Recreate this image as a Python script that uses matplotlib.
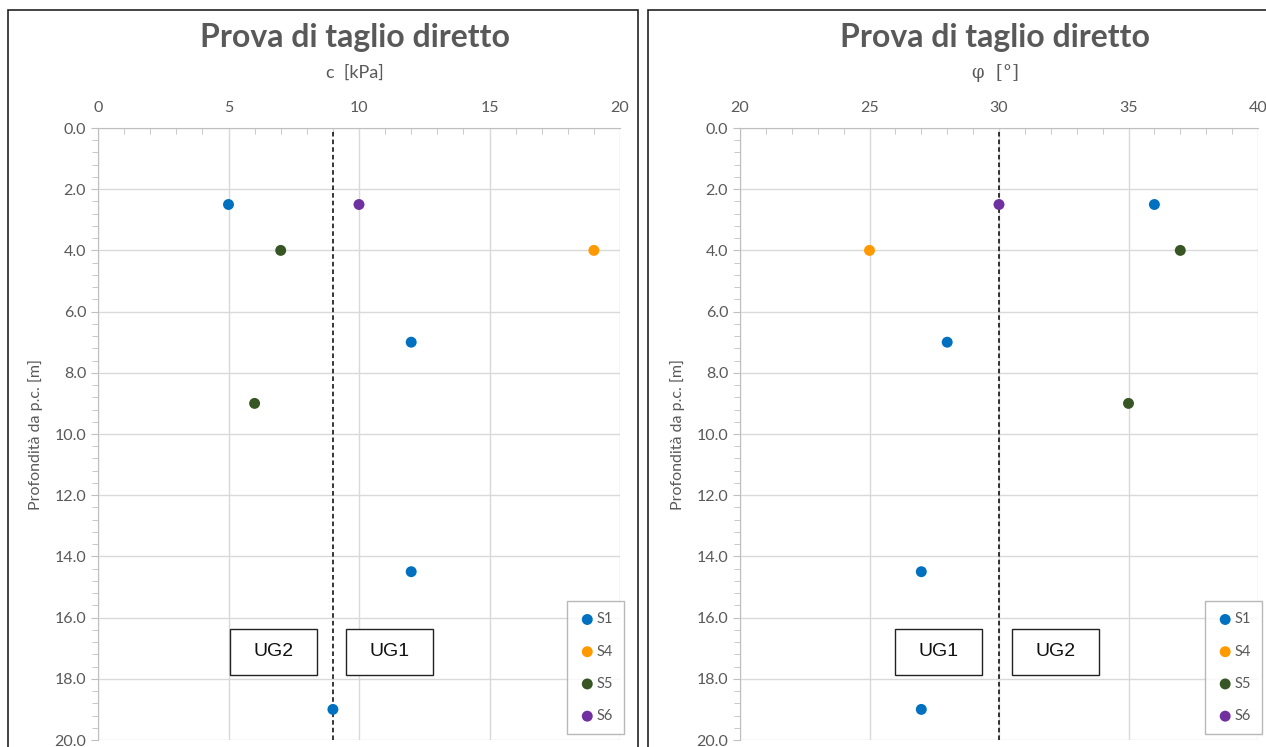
import matplotlib
matplotlib.use("Agg")
import matplotlib.pyplot as plt
from matplotlib.patches import Rectangle
from matplotlib.ticker import MultipleLocator, FormatStrFormatter

# data
series = ["S1", "S4", "S5", "S6"]
colors = ["#0070C0", "#FF9900", "#375623", "#7030A0"]

c_S1 = [5, 12, 12, 9]
z_S1 = [2.5, 7, 14.5, 19]
c_S4 = [19]
z_S4 = [4]
c_S5 = [7, 6]
z_S5 = [4, 9]
c_S6 = [10]
z_S6 = [2.5]

phi_S1 = [36, 28, 27, 27]
phi_S4 = [25]
phi_S5 = [37, 35]
phi_S6 = [30]

c_limit = 9
phi_limit = 30

txt = "#595959"
plt.rcParams['font.family'] = ['Lato', 'DejaVu Sans']

fig = plt.figure(figsize=(12.66, 7.47), dpi=100)
W, H = 1266, 747

# panel frames
for x0, x1 in [(8, 638), (648, 1275)]:
    fig.patches.append(Rectangle((x0 / W, -0.05), (x1 - x0) / W, 1 - 10 / H + 0.05,
                                 transform=fig.transFigure, fill=False,
                                 edgecolor="#222222", lw=1.2))


def make_panel(rect, xs, xlim, xlabel, limit, boxes, title_x):
    ax = fig.add_axes(rect)
    for (name, col), (x, z) in zip(zip(series, colors), xs):
        ax.scatter(x, z, s=62, color=col, label=name, zorder=3, edgecolors="none")
    ax.axvline(limit, color="black", ls=(0, (3, 2)), lw=1.1, zorder=2)
    ax.set_xlim(*xlim)
    ax.set_ylim(20, 0)
    ax.xaxis.set_major_locator(MultipleLocator(5))
    ax.xaxis.set_minor_locator(MultipleLocator(1))
    ax.yaxis.set_major_locator(MultipleLocator(2))
    ax.yaxis.set_minor_locator(MultipleLocator(0.4))
    ax.yaxis.set_major_formatter(FormatStrFormatter("%.1f"))
    ax.xaxis.tick_top()
    ax.grid(True, which="major", color="#D9D9D9", lw=1)
    ax.set_axisbelow(True)
    for s in ["right", "bottom"]:
        ax.spines[s].set_visible(False)
    for s in ["top", "left"]:
        ax.spines[s].set_color("#BFBFBF")
    ax.tick_params(axis="x", which="both", direction="in", colors="#BFBFBF",
                   labelcolor=txt, labelsize=11.5, pad=9)
    ax.tick_params(axis="x", which="major", length=0)
    ax.tick_params(axis="x", which="minor", length=4)
    ax.tick_params(axis="y", which="both", direction="out", colors="#BFBFBF",
                   labelcolor=txt, labelsize=11.5)
    ax.tick_params(axis="y", which="major", length=5)
    ax.tick_params(axis="y", which="minor", length=4)
    fig.text(title_x / W, 1 - 37 / H, "Prova di taglio diretto", color=txt,
             fontsize=23, fontweight="bold", ha="center", va="center")
    fig.text(title_x / W, 1 - 73 / H, xlabel, color=txt, fontsize=13,
             ha="center", va="center",
             family=['DejaVu Serif'] if xlabel.startswith("φ") else None)
    ax.set_ylabel("Profondità da p.c. [m]", color=txt, fontsize=11.5, labelpad=8)
    for label, x0, x1 in boxes:
        ax.add_patch(Rectangle((x0, 16.37), x1 - x0, 1.5, fill=True,
                               facecolor="white", edgecolor="#222222", lw=1, zorder=4))
        ax.text((x0 + x1) / 2, 17.12, label, ha="center", va="center",
                fontsize=14, family="Liberation Sans", color="#111111", zorder=5)
    leg = ax.legend(loc="lower right", bbox_to_anchor=(1.022, -0.002), frameon=True,
                    fancybox=False, edgecolor="#A6A6A6", fontsize=10.5,
                    labelcolor=txt, handletextpad=0.0, borderpad=0.75,
                    labelspacing=1.25, handlelength=1.3, markerscale=1.0)
    leg.get_frame().set_linewidth(1)
    return ax


make_panel([98 / W, 1 - 740 / H, 522 / W, 612 / H],
           [(c_S1, z_S1), (c_S4, z_S4), (c_S5, z_S5), (c_S6, z_S6)],
           (0, 20), "c  [kPa]", c_limit,
           [("UG2", 5.06, 8.39), ("UG1", 9.5, 12.84)], 355)

make_panel([740 / W, 1 - 740 / H, 518 / W, 612 / H],
           [(phi_S1, z_S1), (phi_S4, z_S4), (phi_S5, z_S5), (phi_S6, z_S6)],
           (20, 40), "φ  [°]", phi_limit,
           [("UG1", 25.98, 29.34), ("UG2", 30.5, 33.86)], 995)

fig.savefig("out.png", dpi=100)
